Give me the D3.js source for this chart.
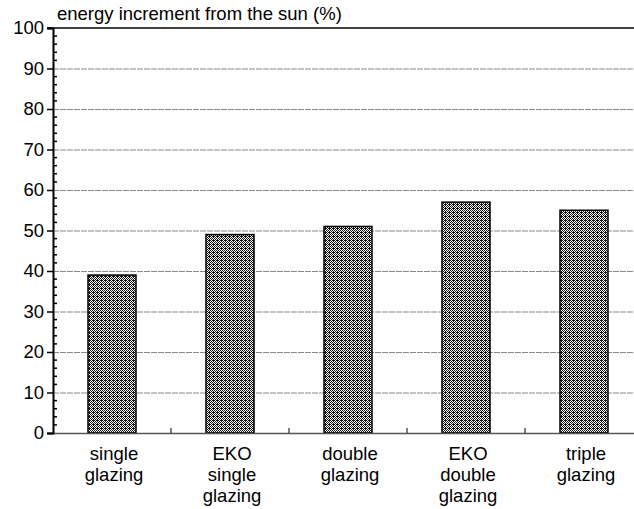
<!DOCTYPE html>
<html><head><meta charset="utf-8">
<script src="https://cdn.jsdelivr.net/npm/d3@7"></script>
<style>body{margin:0;background:#fff}svg{display:block;font-family:"Liberation Sans",Arial,sans-serif}</style>
</head><body>
<script>
const categories = [["single","glazing"],["EKO","single","glazing"],["double","glazing"],["EKO","double","glazing"],["triple","glazing"]];
const values = [39, 49, 51, 57, 55];
const yTicks = [0,10,20,30,40,50,60,70,80,90,100];
const yMinorTicks = d3.range(0, 101, 2);
const title = "energy increment from the sun (%)";

const W = 634, H = 509, FS = 18.5;
const svg = d3.select("body").append("svg").attr("width", W).attr("height", H);
const defs = svg.append("defs");
const pat = defs.append("pattern").attr("id","pat").attr("patternUnits","userSpaceOnUse")
  .attr("width",4).attr("height",4);
pat.append("rect").attr("width",4).attr("height",4).attr("fill","#fff");
[[0,0],[2,0],[1,1],[3,1],[0,2],[2,2],[1,3],[3,3],[1,0]].forEach(([x,y])=>{
  pat.append("rect").attr("x",x).attr("y",y).attr("width",1).attr("height",1).attr("fill","#111")
    .attr("shape-rendering","crispEdges");
});

const ids = categories.map((c,i)=>i);
const x = d3.scaleBand().domain(ids).range([53, 643]);
const y = d3.scaleLinear().domain([0,100]).range([433, 28]);
const step = x.step();

// gridlines
svg.append("g").selectAll("line").data(yTicks.filter(d=>d>0 && d<100)).join("line")
  .attr("x1",53).attr("x2",W).attr("y1",d=>y(d)+0.5).attr("y2",d=>y(d)+0.5)
  .attr("stroke","#8a8a8a").attr("stroke-width",1.2).attr("stroke-dasharray","6,1");
// top line
svg.append("line").attr("x1",47).attr("x2",W).attr("y1",y(100)).attr("y2",y(100))
  .attr("stroke","#000").attr("stroke-width",1.5);

// bars
svg.append("g").selectAll("rect").data(values).join("rect")
  .attr("x",(d,i)=>x(i) + step/2 - 24).attr("width",48)
  .attr("y",d=>y(d)).attr("height",d=>y(0)-y(d))
  .attr("fill","url(#pat)").attr("stroke","#000").attr("stroke-width",1.5);

// x axis
svg.append("line").attr("x1",47).attr("x2",W).attr("y1",y(0)+0.5).attr("y2",y(0)+0.5)
  .attr("stroke","#555").attr("stroke-width",1.5);
svg.append("g").selectAll("line").data(ids.slice(1)).join("line")
  .attr("x1",i=>x(i)).attr("x2",i=>x(i)).attr("y1",y(0)).attr("y2",y(0)-5)
  .attr("stroke","#000").attr("stroke-width",1);

// y axis
const ya = svg.append("g").attr("transform","translate(53,0)")
  .call(d3.axisLeft(y).tickValues(yTicks).tickSize(6).tickPadding(3).tickFormat(d3.format("d")));
ya.select(".domain").attr("stroke","#000").attr("stroke-width",2);
ya.selectAll(".tick line").attr("stroke","#000").attr("stroke-width",1.5);
ya.selectAll("text").attr("font-size",FS).attr("fill","#000")
  .attr("font-family",'"Liberation Sans",Arial,sans-serif');
svg.append("g").selectAll("line").data(yMinorTicks.filter(d=>d%10!==0)).join("line")
  .attr("x1",53).attr("x2",57).attr("y1",d=>y(d)).attr("y2",d=>y(d))
  .attr("stroke","#000").attr("stroke-width",1.5);

// title
svg.append("text").attr("x",57).attr("y",20).attr("font-size",FS).text(title);

// category labels
const lab = svg.append("g").selectAll("text").data(categories).join("text")
  .attr("text-anchor","middle").attr("font-size",FS)
  .attr("transform",(d,i)=>`translate(${x(i)+step/2+2},460)`);
lab.selectAll("tspan").data(d=>d).join("tspan").attr("x",0).attr("dy",(d,j)=>j?21:0).text(d=>d);
</script>
</body></html>
